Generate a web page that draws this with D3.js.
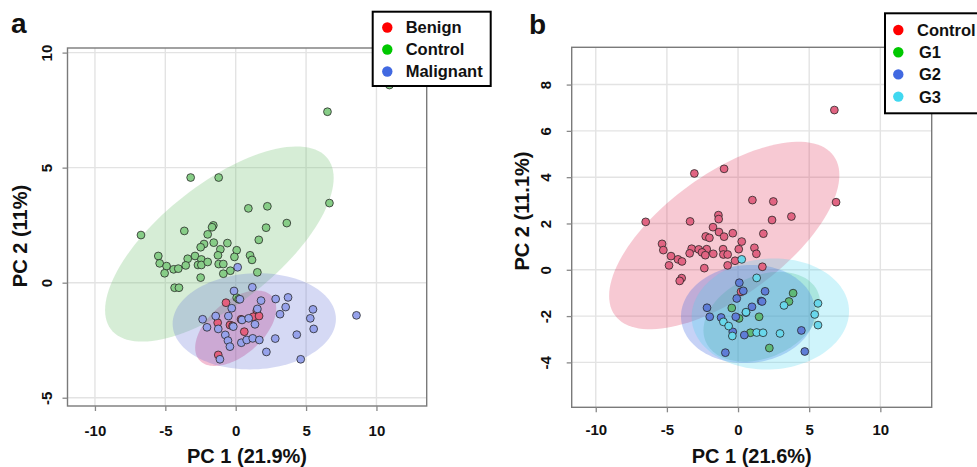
<!DOCTYPE html>
<html><head><meta charset="utf-8">
<script src="https://cdn.jsdelivr.net/npm/d3@7"></script>
<style>
body{margin:0;background:#fff}
text{font-family:"Liberation Sans",Arial,Helvetica,sans-serif;font-weight:bold;fill:#111}
</style>
</head><body>
<svg id="c" width="977" height="467"></svg>
<script>
// ---------------- DATA ----------------
// Panel a
const aBenign = [[-0.69,-0.87],[1.50,-1.22],[1.25,-1.48],[1.66,-1.45],[-1.28,-1.74],[-0.41,-1.84],[-0.22,-1.88],[0.61,-2.13],[-1.24,-3.14],[0.38,-1.59]];
const aControl = [[10.92,8.59],[6.52,7.43],[-3.20,4.57],[-1.21,4.57],[6.66,3.46],[0.90,3.23],[2.25,3.32],[3.63,2.59],[2.16,2.39],[-6.73,2.07],[-3.65,2.25],[-1.59,2.49],[-1.68,2.41],[-1.99,2.10],[1.64,1.86],[-1.56,1.74],[-0.59,1.72],[-2.25,1.68],[-2.49,1.54],[-1.09,1.45],[0.07,1.41],[-5.50,1.16],[-2.89,1.16],[-1.26,1.19],[1.02,1.19],[-0.09,1.12],[1.16,0.99],[-3.41,1.04],[-2.44,1.01],[-5.40,0.84],[-4.91,0.72],[-3.55,0.75],[-2.68,0.77],[-2.44,0.77],[-1.99,0.90],[-1.21,0.81],[-0.88,0.81],[-4.41,0.58],[-4.08,0.61],[-5.05,0.41],[-0.38,0.52],[-0.88,0.39],[1.54,0.45],[-2.49,0.22],[-4.34,-0.22],[-4.03,-0.22],[0.07,-0.65],[0.21,-0.72]];
const aMalignant = [[0.14,0.67],[1.18,-0.20],[-0.12,-0.36],[0.30,-0.72],[1.80,-0.78],[2.84,-0.71],[3.72,-0.64],[3.55,-1.06],[1.54,-1.14],[-0.28,-1.11],[5.49,-1.16],[8.58,-1.42],[3.15,-1.37],[5.30,-1.55],[5.54,-2.01],[-2.35,-1.59],[-1.42,-1.45],[-0.52,-1.45],[0.45,-1.62],[0.92,-1.55],[1.37,-1.81],[-2.04,-1.94],[-1.24,-2.01],[-0.17,-1.91],[-0.74,-2.27],[4.34,-2.26],[-0.55,-2.52],[2.81,-2.43],[0.40,-2.61],[0.78,-2.49],[1.21,-2.42],[1.68,-2.49],[-0.41,-2.78],[2.18,-3.01],[4.62,-3.33],[-1.12,-3.33]];
// ellipse: [centerX, centerY, sdX, sdY, correlation]
const aEllBenign = [0.00,-1.98,2.88,1.64,0.52];
const aEllControl = [-1.16,1.68,8.12,4.24,0.677];
const aEllMalignant = [1.32,-1.68,5.80,2.09,0.05];
const aLegend = ["Benign","Control","Malignant"];
const aXTicks = [-10,-5,0,5,10];
const aYTicks = [-5,0,5,10];
const aXDomain = [-11.95,13.57];
const aYDomain = [-5.36,10.2];

// Panel b
const bControl = [[6.77,6.90],[6.89,2.92],[-0.98,4.36],[-3.07,4.16],[1.01,3.01],[2.48,2.95],[3.75,2.30],[2.39,2.15],[-6.49,2.07],[-3.37,2.09],[-1.38,2.36],[-1.36,2.19],[-1.76,1.84],[-1.34,1.63],[-0.37,1.58],[-0.98,1.43],[-2.27,1.44],[-2.01,1.38],[1.78,1.56],[0.26,1.22],[-5.34,1.12],[-5.25,0.85],[-3.26,0.91],[-2.76,0.88],[-2.20,0.89],[-1.05,0.89],[0.05,0.89],[1.15,0.95],[-3.40,0.71],[-2.53,0.75],[-2.30,0.63],[-1.74,0.69],[-1.03,0.66],[-0.73,0.66],[1.29,0.69],[-4.71,0.59],[-4.22,0.45],[-3.94,0.36],[-4.85,0.19],[-2.37,0.07],[-0.73,0.19],[-0.21,0.39],[1.71,0.13],[-3.96,-0.36],[-4.10,-0.48],[0.21,-0.95]];
const bG1 = [[3.87,-1.01],[3.58,-1.37],[-0.44,-1.65],[0.07,-2.10],[1.48,-2.03],[0.87,-2.72],[2.20,-3.38]];
const bG2 = [[0.09,-0.56],[0.37,-0.91],[1.90,-0.93],[-0.09,-1.24],[1.62,-1.35],[1.69,-1.37],[0.98,-1.60],[-2.18,-1.64],[0.56,-1.85],[-1.99,-2.03],[-1.19,-2.06],[-0.16,-2.03],[-0.37,-2.68],[0.44,-2.82],[4.45,-2.62],[-0.89,-3.58],[4.69,-3.53]];
const bG3 = [[0.26,0.45],[1.31,-0.35],[3.23,-1.54],[5.62,-1.45],[5.39,-1.93],[5.62,-2.39],[0.56,-1.83],[-1.03,-2.25],[-0.66,-2.43],[-0.40,-2.86],[1.31,-2.71],[1.76,-2.72],[2.95,-2.75]];
const bEllControl = [-0.97,1.48,8.09,4.05,0.644];
const bEllG1 = [1.67,-2.03,4.10,1.94,0.30];
const bEllG2 = [0.70,-1.91,4.71,2.12,0.05];
const bEllG3 = [2.27,-1.91,5.53,2.40,0.05];
const bLegend = ["Control","G1","G2","G3"];
const bXTicks = [-10,-5,0,5,10];
const bYTicks = [-4,-2,0,2,4,6,8];
const bXDomain = [-11.69,13.61];
const bYDomain = [-5.94,9.61];

// ---------------- DRAW ----------------
const svg = d3.select("#c");

function ellipsePts(e){
  const [cx,cy,sx,sy,r]=e, k=Math.sqrt(1-r*r);
  return d3.range(0,120).map(i=>{const t=i/120*2*Math.PI;
    return [cx+sx*Math.cos(t), cy+sy*(r*Math.cos(t)+k*Math.sin(t))];});
}

function panel(cfg){
  const x = d3.scaleLinear().domain(cfg.xDomain).range(cfg.xRange);
  const y = d3.scaleLinear().domain(cfg.yDomain).range(cfg.yRange);
  const g = svg.append("g");
  const [L,R]=cfg.xRange, [B,T]=cfg.yRange;
  // grid
  g.selectAll(".gx").data(cfg.xTicks).join("line")
    .attr("x1",d=>x(d)).attr("x2",d=>x(d)).attr("y1",T).attr("y2",B)
    .attr("stroke","#e3e3e3").attr("stroke-width",1.4);
  g.selectAll(".gy").data(cfg.yTicks).join("line")
    .attr("y1",d=>y(d)).attr("y2",d=>y(d)).attr("x1",L).attr("x2",R)
    .attr("stroke","#e3e3e3").attr("stroke-width",1.4);
  // ellipses
  const line = d3.line().x(d=>x(d[0])).y(d=>y(d[1])).curve(d3.curveLinearClosed);
  cfg.series.forEach(s=>{
    g.append("path").attr("d",line(ellipsePts(s.ell)))
      .attr("fill",s.ellFill).attr("fill-opacity",s.ellOp).attr("stroke","none");
  });
  // points
  cfg.series.forEach(s=>{
    g.append("g").selectAll("circle").data(s.pts).join("circle")
      .attr("cx",d=>x(d[0])).attr("cy",d=>y(d[1])).attr("r",3.9)
      .attr("fill",s.ptFill).attr("stroke","#222").attr("stroke-opacity",0.85).attr("stroke-width",0.9);
  });
  // frame
  g.append("rect").attr("x",L).attr("y",T).attr("width",R-L).attr("height",B-T)
    .attr("fill","none").attr("stroke","#7a7a7a").attr("stroke-width",1.4);
  // axes
  const gx = g.append("g").attr("transform",`translate(0,${B})`)
    .call(d3.axisBottom(x).tickValues(cfg.xTicks).tickSize(5).tickFormat(d=>String(d)));
  gx.select(".domain").remove();
  gx.selectAll("line").attr("stroke","#888").attr("stroke-width",1.3);
  gx.selectAll("text").attr("y",cfg.xLabOff).attr("dy",0).style("font-size","15px").attr("fill","#111");
  gx.attr("font-family",null).attr("font-size",null);
  const gy = g.append("g").attr("transform",`translate(${L},0)`)
    .call(d3.axisLeft(y).tickValues(cfg.yTicks).tickSize(5).tickFormat(d=>String(d)));
  gy.select(".domain").remove();
  gy.selectAll("line").attr("stroke","#888").attr("stroke-width",1.3);
  gy.selectAll("text").attr("transform","rotate(-90)").attr("x",0).attr("y",-cfg.yLabOff)
    .attr("dy",0).attr("text-anchor","middle").style("font-size","15px").attr("fill","#111");
  gy.attr("font-family",null).attr("font-size",null);
  // titles
  g.append("text").attr("x",cfg.xTitle[0]).attr("y",cfg.xTitle[1]).attr("text-anchor","middle")
    .style("font-size","20px").text(cfg.xTitleText);
  g.append("text").attr("transform",`translate(${cfg.yTitle[0]},${cfg.yTitle[1]}) rotate(-90)`)
    .attr("text-anchor","middle").style("font-size","20px").text(cfg.yTitleText);
  g.append("text").attr("x",cfg.tag[0]).attr("y",cfg.tag[1]).style("font-size","28px").text(cfg.tagText);
  // legend
  const lg = cfg.legend;
  g.append("rect").attr("x",lg.box[0]).attr("y",lg.box[1]).attr("width",lg.box[2]).attr("height",lg.box[3])
    .attr("fill","#fff").attr("stroke","#000").attr("stroke-width",2);
  lg.labels.forEach((t,i)=>{
    const yy = lg.y0 + i*lg.dy;
    g.append("circle").attr("cx",lg.dotX).attr("cy",yy).attr("r",5.2).attr("fill",lg.colors[i]);
    g.append("text").attr("x",lg.textX[i]).attr("y",yy).attr("dy","0.36em").style("font-size","16.5px").text(t);
  });
}

panel({
  xDomain:aXDomain, yDomain:aYDomain, xRange:[67.5,426.7], yRange:[406,48],
  xTicks:aXTicks, yTicks:aYTicks, xLabOff:30, yLabOff:15.5,
  series:[
    {pts:aBenign, ell:aEllBenign, ptFill:"rgb(228,95,125)", ellFill:"rgb(215,40,110)", ellOp:0.3},
    {pts:aControl, ell:aEllControl, ptFill:"rgb(135,205,135)", ellFill:"rgb(120,195,120)", ellOp:0.3},
    {pts:aMalignant, ell:aEllMalignant, ptFill:"rgb(150,162,235)", ellFill:"rgb(100,115,215)", ellOp:0.27}
  ],
  xTitle:[247,463], xTitleText:"PC 1 (21.9%)",
  yTitle:[27,236], yTitleText:"PC 2 (11%)",
  tag:[11,33], tagText:"a",
  legend:{box:[372.7,11.7,118,74.3], labels:aLegend, colors:["#ff0000","#00c800","#4169e1"],
          y0:27.5, dy:22, dotX:387.3, textX:[405.7,405.7,405.7]}
});

panel({
  xDomain:bXDomain, yDomain:bYDomain, xRange:[571.7,931.7], yRange:[407.3,47.3],
  xTicks:bXTicks, yTicks:bYTicks, xLabOff:28, yLabOff:21,
  series:[
    {pts:bControl, ell:bEllControl, ptFill:"rgb(225,100,130)", ellFill:"rgb(225,40,80)", ellOp:0.25},
    {pts:bG1, ell:bEllG1, ptFill:"rgb(95,185,120)", ellFill:"rgb(60,180,100)", ellOp:0.25},
    {pts:bG2, ell:bEllG2, ptFill:"rgb(95,125,215)", ellFill:"rgb(65,105,225)", ellOp:0.3},
    {pts:bG3, ell:bEllG3, ptFill:"rgb(105,215,235)", ellFill:"rgb(64,210,240)", ellOp:0.25}
  ],
  xTitle:[751.7,463], xTitleText:"PC 1 (21.6%)",
  yTitle:[529,211], yTitleText:"PC 2 (11.1%)",
  tag:[529,34], tagText:"b",
  legend:{box:[885,13.3,110,100], labels:bLegend, colors:["#ff0000","#00c800","#4169e1","#40d8f0"],
          y0:30, dy:22.2, dotX:898.3, textX:[917,919,919,919]}
});
</script>
</body></html>
